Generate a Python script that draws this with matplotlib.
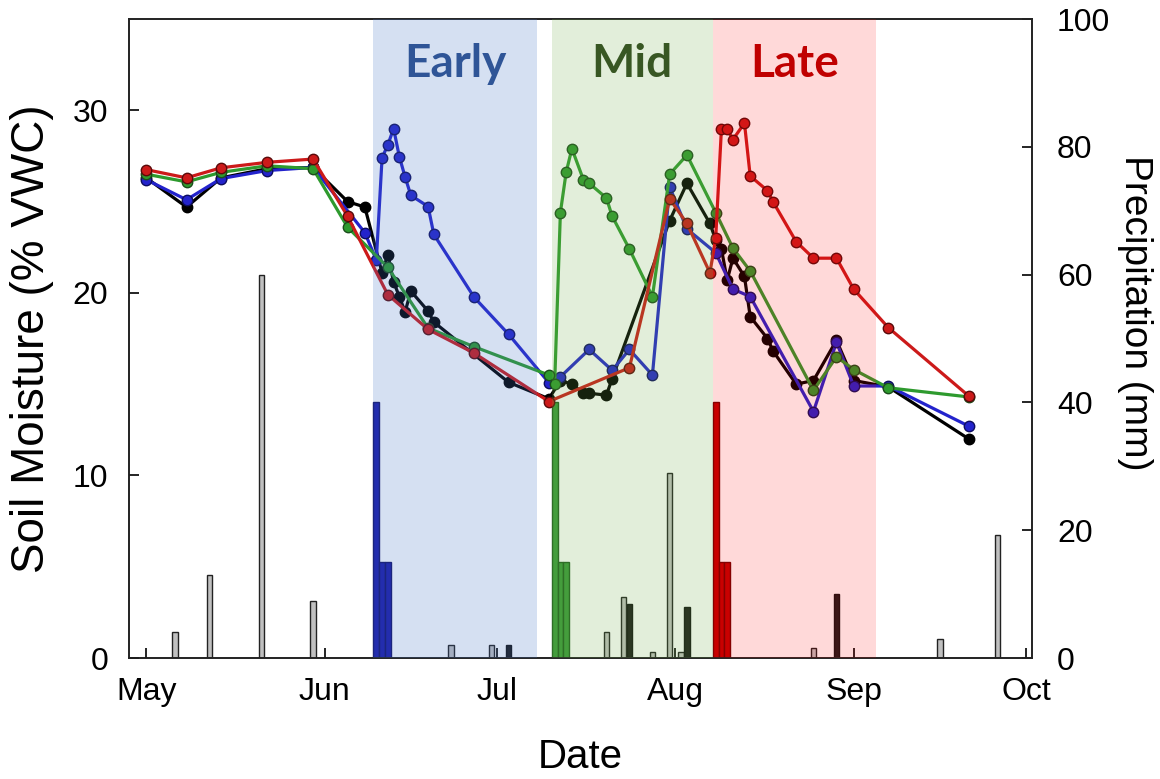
import numpy as np
import matplotlib
matplotlib.use("Agg")
import matplotlib.pyplot as plt

plt.rcParams['font.family'] = ['Liberation Sans', 'DejaVu Sans']

# soil moisture (% VWC) by day of year
black_doy = [121, 128, 134, 142, 150, 156, 159, 162, 163, 164, 165, 166, 167, 170, 171, 184, 191,
             193, 195, 197, 198, 201, 202, 212, 215, 219, 220, 221, 222, 223, 225, 226, 229, 230,
             234, 237, 241, 244, 250, 264]
black_sm = [26.3, 24.7, 26.3, 26.8, 26.87, 25.0, 24.7, 21.1, 22.1, 20.6, 19.8, 18.95, 20.1, 19.0,
            18.4, 15.1, 14.2, 15.2, 15.0, 14.5, 14.5, 14.4, 15.3, 23.96, 26.0, 23.8, 22.9, 22.4,
            20.7, 21.9, 20.9, 18.7, 17.5, 16.8, 15.0, 15.2, 17.4, 15.2, 14.85, 12.0]

blue_doy = [121, 128, 134, 142, 150, 159, 161, 162, 163, 164, 165, 166, 167, 170, 171, 178, 184,
            191, 193, 198, 202, 205, 209, 212, 215, 220, 223, 226, 237, 241, 244, 250, 264]
blue_sm = [26.2, 25.1, 26.26, 26.7, 26.87, 23.3, 21.8, 27.4, 28.1, 29.0, 27.46, 26.35, 25.34,
           24.73, 23.2, 19.76, 17.73, 15.08, 15.4, 16.9, 15.76, 16.9, 15.5, 25.8, 23.5, 22.2,
           20.2, 19.8, 13.5, 17.3, 14.9, 14.9, 12.7]

green_doy = [121, 128, 134, 142, 150, 156, 163, 170, 178, 191, 192, 193, 194, 195, 197, 198, 201,
             202, 205, 209, 212, 215, 220, 223, 226, 237, 241, 244, 250, 264]
green_sm = [26.5, 26.08, 26.6, 26.96, 26.8, 23.6, 21.4, 18.07, 17.05, 15.5, 15.0, 24.4, 26.6,
            27.9, 26.2, 26.0, 25.2, 24.2, 22.4, 19.8, 26.5, 27.55, 24.4, 22.45, 21.2, 14.66,
            16.5, 15.8, 14.8, 14.3]

red_doy = [121, 128, 134, 142, 150, 156, 163, 170, 178, 191, 205, 212, 215, 219, 220, 221, 222,
           223, 225, 226, 229, 230, 234, 237, 241, 244, 250, 264]
red_sm = [26.75, 26.3, 26.85, 27.15, 27.33, 24.2, 19.9, 18.0, 16.7, 14.05, 15.9, 25.15, 23.8,
          21.1, 23.0, 29.0, 28.97, 28.4, 29.3, 26.4, 25.6, 24.97, 22.8, 21.9, 21.9, 20.2, 18.1,
          14.35]

# precipitation (mm)
rain_doy = [126, 132, 141, 150, 174, 181, 201, 204, 209, 212, 214, 237, 259, 269]
rain_mm = [4, 13, 60, 9, 2, 2, 4, 9.5, 1, 29, 1, 1.6, 3, 19.3]
dark_doy = [184, 205, 215, 241]
dark_mm = [2, 8.5, 8, 10]

# irrigation events
early_irr_doy = [161, 162, 163]
mid_irr_doy = [192, 193, 194]
late_irr_doy = [220, 221, 222]
irr_mm = [40, 15, 15]

periods = [("Early", 160.5, 189.0), ("Mid", 191.5, 219.5), ("Late", 219.5, 247.8)]
month_doy = [121, 152, 182, 213, 244, 274]
month_lbl = ["May", "Jun", "Jul", "Aug", "Sep", "Oct"]

fig = plt.figure(figsize=(11.6, 7.79), dpi=100)
ax = fig.add_axes([0.1112, 0.1553, 0.7785, 0.8203])
ax2 = ax.twinx()
ax.set_zorder(ax2.get_zorder() + 1)
ax.patch.set_visible(False)

# precipitation bars on the right axis
ax2.bar(rain_doy, rain_mm, width=0.95, color='#c0c0c0', edgecolor='#222222', linewidth=1.0)
ax2.bar(dark_doy, dark_mm, width=0.95, color='#1a1a1a', edgecolor='#111111', linewidth=1.0)
ax2.bar(early_irr_doy, irr_mm, width=1.0, color='#1a1aa8', edgecolor='#10106a', linewidth=1.0)
ax2.bar(mid_irr_doy, irr_mm, width=1.0, color='#3a9a3a', edgecolor='#1f5f1f', linewidth=1.0)
ax2.bar(late_irr_doy, irr_mm, width=1.0, color='#c00000', edgecolor='#700000', linewidth=1.0)
ax2.set_ylim(0, 100)
ax2.set_yticks(np.arange(0, 101, 20))

series = [
    (black_doy, black_sm, '#000000', '#000000'),
    (blue_doy, blue_sm, '#2323cc', '#0d0d60'),
    (green_doy, green_sm, '#2e9a2e', '#1b4d1b'),
    (red_doy, red_sm, '#cc1a1a', '#5a0a0a'),
]
for doy, sm, col, edge in series:
    ax.plot(doy, sm, '-o', color=col, lw=2.3, ms=7.5, mfc=col, mec=edge, mew=1.0)

ax.set_xlim(118, 275)
ax.set_ylim(0, 35)
ax.set_yticks([0, 10, 20, 30])
ax.set_xticks(month_doy)
ax.set_xticklabels(month_lbl)

# treatment windows, laid over the data
shade = {"Early": ('#4472c4', 0.22, '#2f5597'),
         "Mid": ('#70ad47', 0.20, '#385723'),
         "Late": ('#ff0000', 0.15, '#c00000')}
for name, x0, x1 in periods:
    col, a, tcol = shade[name]
    ax.axvspan(x0, x1, color=col, alpha=a, lw=0, zorder=5)
    ax.text((x0 + x1) / 2, 32.55, name, ha='center', va='center', fontsize=33,
            fontweight='bold', color=tcol, family=['Lato', 'DejaVu Sans'], zorder=6)

for a_ in (ax, ax2):
    for s in a_.spines.values():
        s.set_linewidth(1.2)
        s.set_color('#222222')
ax.tick_params(axis='x', direction='in', length=7, width=1.2, labelsize=23, pad=14)
ax.tick_params(axis='y', direction='in', length=7, width=1.2, labelsize=23, pad=15)
ax2.tick_params(axis='y', direction='in', length=7, width=1.2, labelsize=23, pad=18)

ax.set_xlabel("Date", fontsize=29, labelpad=22)
ax.set_ylabel("Soil Moisture (% VWC)", fontsize=33, va='center')
ax.yaxis.set_label_coords(-0.107, 0.50)
ax2.set_ylabel("Precipitation (mm)", fontsize=28, rotation=270, va='center')
ax2.yaxis.set_label_coords(1.114, 0.54)

fig.savefig("out.png", dpi=100)
